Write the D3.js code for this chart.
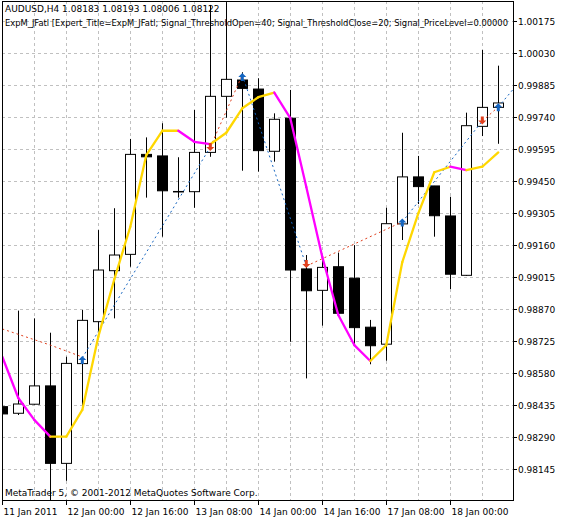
<!DOCTYPE html>
<html><head><meta charset="utf-8">
<script src="https://cdn.jsdelivr.net/npm/d3@7"></script>
<style>body{margin:0;background:#fff}text{font-family:"DejaVu Sans",sans-serif;font-size:9px;fill:#000}</style>
</head><body><div id="chart"></div>
<script>
// OHLC per 4h bar
const opens  = [0.98429,0.98399,0.98440,0.98523,0.98172,0.98624,0.98814,0.99045,0.99119,0.99572,0.99565,0.99403,0.99403,0.99581,0.99835,0.99909,0.99868,0.99586,0.99736,0.99053,0.98956,0.99063,0.99011,0.98789,0.98712,0.99257,0.99470,0.99429,0.99293,0.99024,0.99699,0.99785]
const highs  = [0.98429,0.98864,0.98829,0.98764,0.98655,0.98867,0.99229,0.99328,0.99642,0.99649,0.99713,0.99559,0.99773,1.00249,1.00262,0.99944,0.99917,0.99758,0.99864,0.99116,0.99116,0.99127,0.99161,0.98822,0.99330,0.99670,0.99565,0.99429,0.99380,0.99761,1.00045,0.99974]
const lows   = [0.98396,0.98391,0.98438,0.98006,0.98093,0.98414,0.98769,0.98829,0.99063,0.99376,0.99199,0.99376,0.99330,0.99561,0.99738,0.99498,0.99494,0.99539,0.98723,0.98557,0.98796,0.98845,0.98708,0.98621,0.98637,0.99184,0.99347,0.99199,0.98962,0.99021,0.99655,0.99620]
const closes = [0.98396,0.98441,0.98523,0.98172,0.98625,0.98820,0.99048,0.99116,0.99572,0.99561,0.99407,0.99404,0.99581,0.99835,0.99912,0.99871,0.99589,0.99731,0.99048,0.98954,0.99060,0.98852,0.98787,0.98705,0.99258,0.99470,0.99426,0.99294,0.99029,0.99702,0.99785,0.99805]
const jfatl  = [0.98655,0.98468,0.98369,0.98293,0.98293,0.98414,0.98746,0.99006,0.99244,0.99569,0.99679,0.99679,0.99629,0.99618,0.99670,0.99781,0.99831,0.99852,0.99736,0.99424,0.99107,0.98844,0.98708,0.98636,0.98708,0.99084,0.99305,0.99491,0.99516,0.99501,0.99516,0.99581]
// trade lines: [bar, price]
const tradeLines = [
  {dir:"sell", pts:[[0,0.98781],[3,0.98708],[5,0.98654]]},
  {dir:"buy",  pts:[[5,0.98650],[13,0.99605]]},
  {dir:"sell", pts:[[13,0.99605],[15,0.99932]]},
  {dir:"buy",  pts:[[15,0.99932],[19,0.99066]]},
  {dir:"sell", pts:[[19,0.99066],[25,0.99266]]},
  {dir:"buy",  pts:[[25,0.99266],[30,0.99723]]},
  {dir:"sell", pts:[[30,0.99723],[31,0.99787]]},
  {dir:"buy",  pts:[[31,0.99787],[32,0.99873]]}
]
const arrows = [[5,0.98640,"buy"],[13,0.99605,"sell"],[15,0.99923,"buy"],[19,0.99075,"sell"],[25,0.99263,"buy"],[30,0.99726,"sell"],[31,0.99785,"buy"]]
const priceTicks = [1.00175,1.00030,0.99885,0.99740,0.99595,0.99450,0.99305,0.99160,0.99015,0.98870,0.98725,0.98580,0.98435,0.98290,0.98145]
const dateLabels = [[0,"11 Jan 2011"],[4,"12 Jan 00:00"],[8,"12 Jan 16:00"],[12,"13 Jan 08:00"],[16,"14 Jan 00:00"],[20,"14 Jan 16:00"],[24,"17 Jan 08:00"],[28,"18 Jan 00:00"]]

const W = 566, H = 521
const plot = {left: 2, right: 513, top: 1, bottom: 500}
const svg = d3.select("#chart").append("svg").attr("width", W).attr("height", H)
const x = d3.scaleLinear().domain([0, 31]).range([2.3, 498.3])
const y = d3.scaleLinear().domain([1.002715, 1.002715 - 0.00004531 * 521]).range([0, 521])

svg.append("clipPath").attr("id", "clip").append("rect")
    .attr("x", plot.left).attr("y", plot.top).attr("width", plot.right - plot.left).attr("height", plot.bottom - plot.top)

const g = svg.append("g").attr("clip-path", "url(#clip)")
const gridColor = "#c0c0c0"
priceTicks.forEach(p => {
    g.append("line").attr("x1", plot.left).attr("x2", plot.right).attr("y1", Math.round(y(p)) + 0.5).attr("y2", Math.round(y(p)) + 0.5)
        .attr("stroke", gridColor).attr("stroke-dasharray", "3,3")
})
d3.range(2, 32, 2).forEach(i => {
    g.append("line").attr("y1", plot.top).attr("y2", plot.bottom).attr("x1", Math.round(x(i)) + 0.5).attr("x2", Math.round(x(i)) + 0.5)
        .attr("stroke", gridColor).attr("stroke-dasharray", "3,3")
})

// candles
opens.forEach((o, i) => {
    const cx = Math.round(x(i)) + 0.5
    const c = closes[i]
    g.append("line").attr("x1", cx).attr("x2", cx).attr("y1", y(highs[i])).attr("y2", y(lows[i])).attr("stroke", "#000")
    const top = y(Math.max(o, c)), bot = y(Math.min(o, c))
    g.append("rect").attr("x", cx - 5).attr("width", 10).attr("y", top).attr("height", Math.max(bot - top, 0.5))
        .attr("fill", c < o ? "#000" : "#fff").attr("stroke", "#000")
})

// trade lines
tradeLines.forEach(t => {
    g.append("path").datum(t.pts)
        .attr("d", d3.line().x(d => x(d[0])).y(d => y(d[1])))
        .attr("fill", "none").attr("stroke", t.dir === "buy" ? "#1565c0" : "#e0401e")
        .attr("stroke-width", 1).attr("stroke-dasharray", "2,3")
})

// JFatl line, gold when rising, magenta when falling
jfatl.slice(1).forEach((v, k) => {
    const p = jfatl[k]
    g.append("line").attr("x1", x(k)).attr("y1", y(p)).attr("x2", x(k + 1)).attr("y2", y(v))
        .attr("stroke", v < p ? "#ff00ff" : "#ffd700").attr("stroke-width", 2.3).attr("stroke-linecap", "round")
})

// arrows
arrows.forEach(([i, p, dir]) => {
    const cx = x(i), cy = y(p), s = dir === "buy" ? -1 : 1
    g.append("path")
        .attr("d", `M${cx},${cy + 4 * s}L${cx - 4},${cy}L${cx - 1.5},${cy}L${cx - 1.5},${cy - 4 * s}L${cx + 1.5},${cy - 4 * s}L${cx + 1.5},${cy}L${cx + 4},${cy}Z`)
        .attr("fill", dir === "buy" ? "#1565c0" : "#e0401e")
})

// frame
svg.append("rect").attr("x", plot.left + 0.5).attr("y", plot.top + 0.5).attr("width", plot.right - plot.left).attr("height", plot.bottom - plot.top)
    .attr("fill", "none").attr("stroke", "#000")

// price axis
priceTicks.forEach(p => {
    const yy = Math.round(y(p)) + 0.5
    svg.append("line").attr("x1", plot.right).attr("x2", plot.right + 4).attr("y1", yy).attr("y2", yy).attr("stroke", "#000")
    svg.append("text").attr("x", plot.right + 5).attr("y", yy + 3.5).text(p.toFixed(5))
})
// date axis
dateLabels.forEach(([i, s]) => {
    const xx = i === 0 ? plot.left + 0.5 : Math.round(x(i)) + 0.5
    svg.append("line").attr("x1", xx).attr("x2", xx).attr("y1", plot.bottom).attr("y2", plot.bottom + 5).attr("stroke", "#000")
    svg.append("text").attr("x", xx + 1).attr("y", plot.bottom + 15).text(s)
})

svg.append("text").attr("x", 5).attr("y", 12).text("AUDUSD,H4  1.08183 1.08193 1.08006 1.08122")
svg.append("text").attr("x", 5).attr("y", 26).style("font-size", "8.2px")
    .attr("textLength", 503).attr("lengthAdjust", "spacingAndGlyphs")
    .text("ExpM_JFatl [Expert_Title=ExpM_JFatl; Signal_ThresholdOpen=40; Signal_ThresholdClose=20; Signal_PriceLevel=0.00000")
svg.append("text").attr("x", 5).attr("y", 496).text("MetaTrader 5, © 2001-2012 MetaQuotes Software Corp.")
</script></body></html>
